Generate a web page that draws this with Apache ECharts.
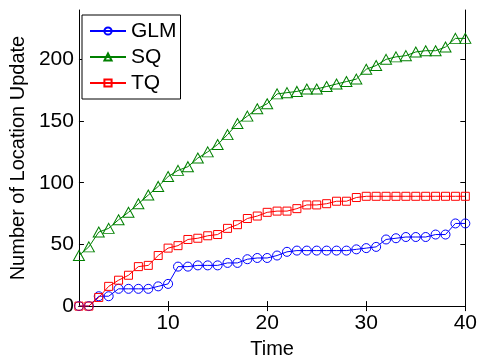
<!DOCTYPE html>
<html>
<head>
<meta charset="utf-8">
<script src="https://cdn.jsdelivr.net/npm/echarts@6/dist/echarts.min.js"></script>
<style>html,body{margin:0;padding:0;background:#fff}#c{width:480px;height:364px}</style>
</head>
<body>
<div id="c"></div>
<script>
const times = [1,2,3,4,5,6,7,8,9,10,11,12,13,14,15,16,17,18,19,20,21,22,23,24,25,26,27,28,29,30,31,32,33,34,35,36,37,38,39,40];
const glm = [0,0,8,8,14,14,14,14,16,18,32,32,33,33,33,35,35,38,39,39,41,44,45,45,45,45,45,45,46,47,48,54,55,56,56,56,58,58,67,67];
const sq = [41,48,60,63,70,76,83,90,97,105,110,113,120,125,131,139,148,154,160,164,172,173,174,176,176,178,180,182,184,192,195,200,202,203,206,207,207,210,217,217];
const tq = [0,0,7,16,21,25,32,33,41,47,49,54,55,57,58,63,66,71,73,76,77,77,79,82,82,83,85,85,88,89,89,89,89,89,89,89,89,89,89,89];
const xTicks = [10,20,30,40];
const yTicks = [0,50,100,150,200];
const seriesNames = ['GLM','SQ','TQ'];

const FONT = 'Liberation Sans';
const pairs = v => times.map((t,i)=>[t, v[i]]);
const chart = echarts.init(document.getElementById('c'), null, {renderer:'canvas'});
function mk(name, vals, color, symbol, size){
  return {
    name, type:'line', data: pairs(vals), xAxisIndex:0, yAxisIndex:0,
    symbol, symbolSize:size, showSymbol:true,
    color,
    lineStyle:{color, width:1},
    itemStyle:{color:'none', borderColor:color, borderWidth:1},
    emphasis:{disabled:true}
  };
}
const axLine = {show:true, lineStyle:{color:'#000', width:1}};
chart.setOption({
  animation:false,
  backgroundColor:'#fff',
  grid:{left:76, right:12, top:10, bottom:51, show:false},
  legend:{
    orient:'vertical', left:82, top:15,
    data: seriesNames,
    backgroundColor:'#fff', borderColor:'#000', borderWidth:1,
    padding:[5,4,5,7], itemGap:4, itemWidth:36, itemHeight:9,
    textStyle:{fontFamily:FONT, fontSize:21, lineHeight:22, color:'#000', padding:[0,0,0,0]}
  },
  xAxis:[{
    type:'value', min:1, max:40, position:'bottom',
    axisLine:axLine,
    axisTick:{show:true, inside:true, length:5, customValues:xTicks, lineStyle:{color:'#000'}},
    axisLabel:{customValues:xTicks, color:'#000', fontFamily:FONT, fontSize:21, margin:7},
    splitLine:{show:false},
    name:'Time', nameLocation:'middle', nameGap:30,
    nameTextStyle:{fontFamily:FONT, fontSize:20, color:'#000'}
  },{
    type:'value', min:1, max:40, position:'top',
    axisLine:axLine,
    axisTick:{show:true, inside:true, length:5, customValues:xTicks, lineStyle:{color:'#000'}},
    axisLabel:{show:false}, splitLine:{show:false}
  }],
  yAxis:[{
    type:'value', min:0, max:240, position:'left',
    axisLine:axLine,
    axisTick:{show:true, inside:true, length:5, customValues:yTicks, lineStyle:{color:'#000'}},
    axisLabel:{customValues:yTicks, color:'#000', fontFamily:FONT, fontSize:21, margin:5},
    splitLine:{show:false},
    name:'Number of Location Update', nameLocation:'middle', nameGap:50,
    nameTextStyle:{fontFamily:FONT, fontSize:20, color:'#000'}
  },{
    type:'value', min:0, max:240, position:'right',
    axisLine:axLine,
    axisTick:{show:true, inside:true, length:5, customValues:yTicks, lineStyle:{color:'#000'}},
    axisLabel:{show:false}, splitLine:{show:false}
  }],
  series:[
    mk('GLM', glm, '#0000ff', 'circle', 9),
    mk('SQ', sq, '#008000', 'triangle', [11,10]),
    mk('TQ', tq, '#ff0000', 'rect', 8)
  ]
});
</script>
</body>
</html>
